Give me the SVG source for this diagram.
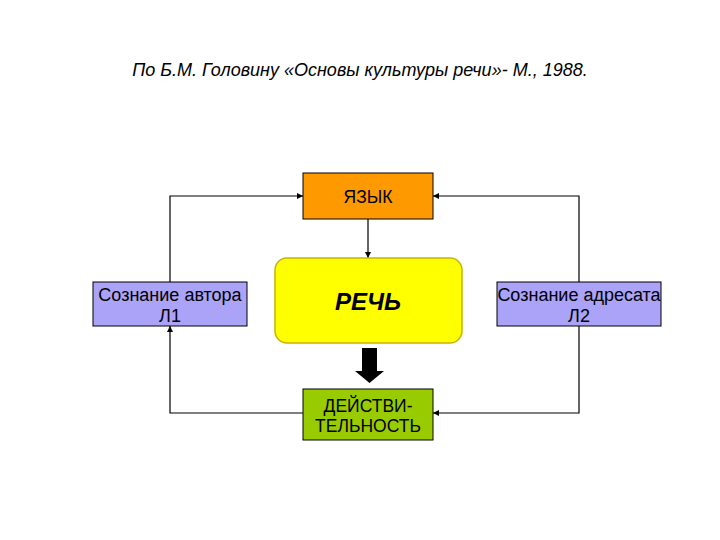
<svg xmlns="http://www.w3.org/2000/svg" width="720" height="540" viewBox="0 0 720 540">
<style>
.t{font-family:"Liberation Sans",Arial,sans-serif;fill:#000;text-anchor:middle}
.box{stroke:#000;stroke-width:1}
.ln{fill:none;stroke:#000;stroke-width:1.2}
</style>
<defs>
<marker id="ah" viewBox="0 0 10 10" refX="10" refY="5" markerWidth="6" markerHeight="6" orient="auto" markerUnits="userSpaceOnUse">
<path d="M0,0 L10,5 L0,10 z" fill="#000"/>
</marker>
</defs>
<rect width="720" height="540" fill="#fff"/>
<text class="t" x="360" y="76" font-size="18" font-style="italic">По Б.М. Головину «Основы культуры речи»- М., 1988.</text>
<g id="connectors">
<polyline class="ln" points="170,282 170,196 303,196" marker-end="url(#ah)"/>
<polyline class="ln" points="579,282 579,196 433,196" marker-end="url(#ah)"/>
<polyline class="ln" points="303,413 170,413 170,326" marker-end="url(#ah)"/>
<polyline class="ln" points="579,326 579,413 433,413" marker-end="url(#ah)"/>
<line class="ln" x1="368" y1="219" x2="368" y2="258" marker-end="url(#ah)"/>
<path d="M362,348 L377,348 L377,371 L384,371 L369.5,383 L355,371 L362,371 Z" fill="#000"/>
</g>
<g id="yazyk">
<rect class="box" x="303" y="173" width="130" height="46" fill="#FF9900"/>
<text class="t" x="368" y="203" font-size="17.5">ЯЗЫК</text>
</g>
<g id="rech">
<rect x="275" y="258" width="187" height="85" rx="12" fill="#FFFF00" stroke="#C8B400" stroke-width="1.5"/>
<text class="t" x="368" y="310" font-size="24" font-weight="bold" font-style="italic">РЕЧЬ</text>
</g>
<g id="deystv">
<rect class="box" x="303" y="389" width="130" height="51" fill="#99CC00"/>
<text class="t" x="368" y="412" font-size="17.5">ДЕЙСТВИ-</text>
<text class="t" x="368" y="432" font-size="17.5">ТЕЛЬНОСТЬ</text>
</g>
<g id="avtor">
<rect class="box" x="93" y="282" width="154" height="44" fill="#ABA3F7"/>
<text class="t" x="170" y="301" font-size="18">Сознание автора</text>
<text class="t" x="170" y="322" font-size="18">Л1</text>
</g>
<g id="adresat">
<rect class="box" x="497" y="282" width="164" height="44" fill="#ABA3F7"/>
<text class="t" x="579" y="301" font-size="18">Сознание адресата</text>
<text class="t" x="579" y="322" font-size="18">Л2</text>
</g>
</svg>
